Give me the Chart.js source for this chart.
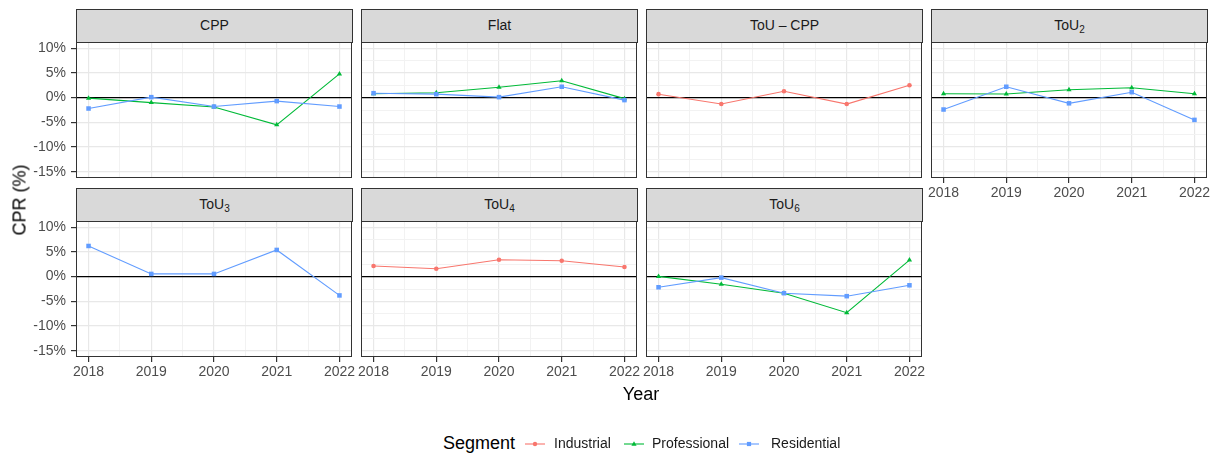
<!DOCTYPE html>
<html>
<head>
<meta charset="utf-8">
<script src="https://cdn.jsdelivr.net/npm/chart.js@4.4.0/dist/chart.umd.min.js"></script>
<style>
body { margin: 0; background: #fff; font-family: 'Liberation Sans', Arial, sans-serif; }
#wrap { position: relative; width: 1227px; height: 457px; overflow: hidden; background: #fff; }
canvas { position: absolute; }
.strip { position: absolute; box-sizing: border-box; background: #d9d9d9; border: 1px solid #333;
  color: #1a1a1a; font-size: 14px; text-align: center; line-height: 31px; height: 34px; width: 277px; }
.strip sub { font-size: 10px; vertical-align: -3px; line-height: 0; }
.title { position: absolute; font-size: 18px; color: #000; white-space: nowrap; }
.leg { position: absolute; font-size: 14px; color: #1a1a1a; white-space: nowrap; }
</style>
</head>
<body>
<div id="wrap"></div>
<script>
// valores (CPR en %)
var years = [2018, 2019, 2020, 2021, 2022];
var xTicks = [2018, 2018.5, 2019, 2019.5, 2020, 2020.5, 2021, 2021.5, 2022];
var yTicks = [-15, -12.5, -10, -7.5, -5, -2.5, 0, 2.5, 5, 7.5, 10];
var segments = ['Industrial', 'Professional', 'Residential'];

var cppProfessional = [-0.1, -1.0, -1.9, -5.5, 4.8];
var cppResidential = [-2.2, 0.1, -1.8, -0.7, -1.8];
var flatProfessional = [0.8, 1.0, 2.1, 3.4, -0.2];
var flatResidential = [0.9, 0.7, 0.1, 2.2, -0.5];
var touCppIndustrial = [0.7, -1.3, 1.3, -1.3, 2.5];
var tou2Professional = [0.8, 0.75, 1.6, 2.0, 0.8];
var tou2Residential = [-2.4, 2.2, -1.15, 1.1, -4.5];
var tou3Residential = [6.2, 0.55, 0.55, 5.4, -3.8];
var tou4Industrial = [2.15, 1.6, 3.4, 3.2, 1.95];
var tou6Professional = [0.05, -1.55, -3.35, -7.3, 3.35];
var tou6Residential = [-2.15, -0.2, -3.35, -3.95, -1.75];

var segColor = { Industrial: '#F8766D', Professional: '#00BA38', Residential: '#619CFF' };
var segPoint = { Industrial: 'circle', Professional: 'triangle', Residential: 'rect' };
var segRadius = { Industrial: 2.3, Professional: 3, Residential: 3.2 };
var segOrder = { Industrial: 2, Professional: 1, Residential: 0 };

var panels = [
  { label: 'CPP', col: 0, row: 0, series: { Professional: cppProfessional, Residential: cppResidential } },
  { label: 'Flat', col: 1, row: 0, series: { Professional: flatProfessional, Residential: flatResidential } },
  { label: 'ToU – CPP', col: 2, row: 0, series: { Industrial: touCppIndustrial } },
  { label: 'ToU<sub>2</sub>', col: 3, row: 0, series: { Professional: tou2Professional, Residential: tou2Residential } },
  { label: 'ToU<sub>3</sub>', col: 0, row: 1, series: { Residential: tou3Residential } },
  { label: 'ToU<sub>4</sub>', col: 1, row: 1, series: { Industrial: tou4Industrial } },
  { label: 'ToU<sub>6</sub>', col: 2, row: 1, series: { Professional: tou6Professional, Residential: tou6Residential } }
];

Chart.defaults.font.family = "'Liberation Sans', Arial, sans-serif";

// medidas del layout
var panelW = 276, panelH = 136;
var colLeft = [76, 361, 646, 931];
var rowTop = [42, 221];
var YW = 60, XH = 30, PT = 16, PR = 24;

var wrap = document.getElementById('wrap');

// borde del panel (theme_bw)
var panelBorder = {
  id: 'panelBorder',
  afterDraw: function (chart) {
    var a = chart.chartArea, c = chart.ctx;
    c.save();
    c.strokeStyle = '#333';
    c.lineWidth = 1;
    c.strokeRect(Math.round(a.left) + 0.5, Math.round(a.top) + 0.5, Math.round(a.right - a.left) - 1, Math.round(a.bottom - a.top) - 1);
    c.restore();
  }
};

function makePanel(p) {
  var left = colLeft[p.col], top = rowTop[p.row];
  var showY = p.col === 0;
  var showX = p.row === 1 || p.col === 3;

  var strip = document.createElement('div');
  strip.className = 'strip';
  strip.style.left = left + 'px';
  strip.style.top = (top - 33) + 'px';
  strip.innerHTML = p.label;

  var cv = document.createElement('canvas');
  cv.width = YW + panelW + PR;
  cv.height = PT + panelH + XH;
  cv.style.left = (left - YW) + 'px';
  cv.style.top = (top - PT) + 'px';
  wrap.appendChild(cv);
  wrap.appendChild(strip);

  var datasets = [];
  for (const seg of segments) {
    if (!p.series[seg]) continue;
    datasets.push({
      label: seg,
      data: years.map(function (y, i) { return { x: y, y: p.series[seg][i] }; }),
      borderColor: segColor[seg],
      backgroundColor: segColor[seg],
      pointBackgroundColor: segColor[seg],
      pointBorderWidth: 0,
      pointStyle: segPoint[seg],
      pointRadius: segRadius[seg],
      borderWidth: 1.1,
      tension: 0,
      order: segOrder[seg]
    });
  }

  new Chart(cv, {
    type: 'line',
    data: { datasets: datasets },
    options: {
      responsive: false,
      animation: false,
      layout: { padding: { top: PT, right: PR, left: 0, bottom: 0 } },
      plugins: { legend: { display: false }, tooltip: { enabled: false } },
      scales: {
        x: {
          type: 'linear', min: 2017.8, max: 2022.2,
          afterBuildTicks: function (s) { s.ticks = xTicks.map(function (v) { return { value: v }; }); },
          afterFit: function (s) { s.height = XH; },
          border: { display: false },
          grid: {
            color: function (ctx) { return ctx.tick && ctx.tick.value % 1 === 0 ? '#e8e8e8' : '#f2f2f2'; },
            lineWidth: function (ctx) { return ctx.tick && ctx.tick.value % 1 === 0 ? 1.2 : 1; },
            tickLength: 5,
            tickColor: function (ctx) { return showX && ctx.tick && ctx.tick.value % 1 === 0 ? '#333' : 'rgba(0,0,0,0)'; }
          },
          ticks: {
            display: showX, autoSkip: false, maxRotation: 0, padding: 2,
            color: '#4d4d4d', font: { size: 14 },
            callback: function (v) { return v % 1 === 0 ? String(v) : ''; }
          }
        },
        y: {
          type: 'linear', min: -16.25, max: 11.25,
          afterBuildTicks: function (s) { s.ticks = yTicks.map(function (v) { return { value: v }; }); },
          afterFit: function (s) { s.width = YW; },
          border: { display: false },
          grid: {
            color: function (ctx) {
              if (!ctx.tick) return '#e8e8e8';
              if (ctx.tick.value === 0) return '#000';
              return ctx.tick.value % 5 === 0 ? '#e8e8e8' : '#f2f2f2';
            },
            lineWidth: function (ctx) { return ctx.tick && ctx.tick.value % 5 === 0 ? 1.2 : 1; },
            tickLength: 5,
            tickColor: function (ctx) { return showY && ctx.tick && ctx.tick.value % 5 === 0 ? '#333' : 'rgba(0,0,0,0)'; }
          },
          ticks: {
            display: showY, padding: 5,
            color: '#4d4d4d', font: { size: 14 },
            callback: function (v) { return v % 5 === 0 ? v + '%' : ''; }
          }
        }
      }
    },
    plugins: [panelBorder]
  });
}

for (const p of panels) makePanel(p);

// titulos de ejes
var yt = document.createElement('div');
yt.className = 'title';
yt.textContent = 'CPR (%)';
yt.style.left = '20px';
yt.style.top = '200px';
yt.style.transform = 'translate(-50%, -50%) rotate(-90deg)';
wrap.appendChild(yt);

var xt = document.createElement('div');
xt.className = 'title';
xt.textContent = 'Year';
xt.style.left = '641px';
xt.style.top = '394px';
xt.style.transform = 'translate(-50%, -50%)';
wrap.appendChild(xt);

// leyenda
var lg = document.createElement('div');
lg.className = 'title';
lg.textContent = 'Segment';
lg.style.left = '443px';
lg.style.top = '443px';
lg.style.transform = 'translateY(-50%)';
wrap.appendChild(lg);

var keyX = { Industrial: 535, Professional: 634, Residential: 749 };
var textX = { Industrial: 554, Professional: 652, Residential: 771 };
var shapes = {
  circle: '<circle cx="10" cy="6" r="2.2"/>',
  triangle: '<polygon points="10,3.2 12.6,7.8 7.4,7.8"/>',
  rect: '<rect x="7.9" y="3.9" width="4.2" height="4.2"/>'
};
for (const seg of segments) {
  var k = document.createElement('div');
  k.className = 'leg';
  k.style.left = (keyX[seg] - 10) + 'px';
  k.style.top = '437px';
  k.innerHTML = '<svg width="20" height="12"><line x1="0" y1="6" x2="20" y2="6" stroke="' + segColor[seg] +
    '" stroke-width="1.1"/><g fill="' + segColor[seg] + '">' + shapes[segPoint[seg]] + '</g></svg>';
  wrap.appendChild(k);
  var t = document.createElement('div');
  t.className = 'leg';
  t.textContent = seg;
  t.style.left = textX[seg] + 'px';
  t.style.top = '443px';
  t.style.transform = 'translateY(-50%)';
  wrap.appendChild(t);
}
</script>
</body>
</html>
